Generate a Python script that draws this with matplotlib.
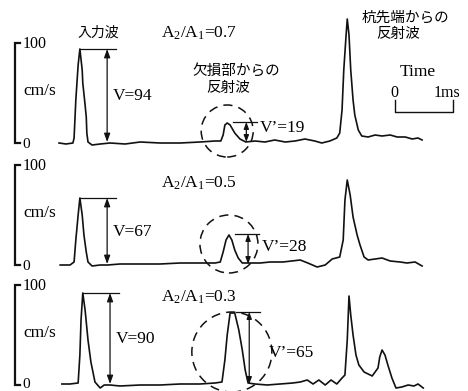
import matplotlib
matplotlib.use('Agg')
import matplotlib.pyplot as plt
from matplotlib.patches import Ellipse
import numpy as np

plt.rcParams['font.family'] = ['Liberation Serif', 'Noto Sans CJK JP']

# ---------------- data (time in ms, velocity in cm/s) ----------------
ratios = ['0.7', '0.5', '0.3']
input_labels = [94, 67, 90]
defect_labels = [19, 28, 65]
scale_ticks = [0, 100]
time_bar = [0, 1]

t1 = [0.00, 0.12, 0.24, 0.26, 0.29, 0.33, 0.36, 0.40, 0.41, 0.45, 0.47, 0.48, 0.50, 0.57, 0.71,
      0.88, 1.14, 1.40, 1.74, 2.09, 2.43, 2.69, 2.79, 2.83, 2.86, 2.90, 2.95, 3.03, 3.12, 3.22,
      3.38, 3.55, 3.72, 3.90, 4.07, 4.24, 4.41, 4.53, 4.67, 4.79, 4.84, 4.88, 4.91, 4.95, 4.97,
      5.00, 5.03, 5.07, 5.10, 5.16, 5.22, 5.33, 5.45, 5.57, 5.71, 5.83, 5.97, 6.09, 6.19, 6.26]
v1 = [0, -1, 0, 5, 43, 78, 94, 73, 60, 38, 26, 10, 1, -2, -1,
      0, -1, 1, 0, 0, 1, 2, 2, 8, 18, 20, 18, 10, 4, 1,
      2, 1, 3, 1, 2, 4, 2, 0, 2, 5, 10, 33, 73, 108, 124,
      108, 73, 43, 28, 13, 7, 6, 8, 7, 8, 6, 6, 4, 5, 3]

t2 = [0.02, 0.19, 0.26, 0.29, 0.33, 0.36, 0.40, 0.43, 0.47, 0.50, 0.57, 0.71, 0.84, 1.05, 1.40,
      1.74, 2.09, 2.43, 2.69, 2.78, 2.83, 2.88, 2.93, 2.98, 3.03, 3.09, 3.16, 3.29, 3.47, 3.64,
      3.86, 4.16, 4.29, 4.45, 4.59, 4.71, 4.84, 4.90, 4.93, 4.97, 5.02, 5.07, 5.14, 5.19, 5.26,
      5.33, 5.45, 5.57, 5.71, 5.88, 6.00, 6.14, 6.26]
v2 = [0, 0, 3, 25, 50, 67, 50, 30, 13, 3, -1, 0, 0, 1, 1,
      1, 2, 2, 2, 3, 13, 25, 30, 25, 15, 7, 2, 2, 2, 3,
      3, 5, 2, -2, 0, 6, 8, 25, 65, 85, 70, 48, 30, 20, 8,
      5, 6, 7, 4, 3, 2, 3, -1]

t3 = [0.05, 0.19, 0.33, 0.36, 0.38, 0.41, 0.45, 0.50, 0.55, 0.62, 0.71, 0.78, 0.88, 1.05, 1.40,
      1.74, 2.09, 2.43, 2.69, 2.81, 2.86, 2.90, 2.95, 3.03, 3.10, 3.16, 3.21, 3.26, 3.38, 3.59,
      3.81, 4.03, 4.16, 4.28, 4.38, 4.48, 4.59, 4.69, 4.79, 4.88, 4.93, 4.97, 5.00, 5.03, 5.07,
      5.12, 5.17, 5.26, 5.40, 5.50, 5.53, 5.57, 5.62, 5.67, 5.74, 5.81, 5.91, 6.02, 6.12, 6.19, 6.28]
v3 = [1, 1, 2, 30, 65, 92, 75, 45, 23, 3, -3, 0, 0, -1, 0,
      0, 1, 1, 2, 3, 25, 50, 72, 72, 55, 35, 15, 2, 1, 0,
      1, 2, 3, 5, 1, 5, 0, 5, 1, 7, 10, 45, 89, 70, 50,
      30, 20, 13, 9, 17, 28, 35, 30, 20, 7, -3, -2, 0, -1, 1, -3]

series_t = [t1, t2, t3]
series_v = [v1, v2, v3]

# ---------------- layout ----------------
W, H = 468, 391
PX_PER_MS = 58.0
T0_PX = 59.0
zero_px = [143, 265, 385]
zero_label_v = [-2, -2, 0]
circle_r_px = [26, 29, 40]
circle_cv = [12, 21, 33]
defect_text_v = [15, 18, 32]
LC = '#111111'

fig = plt.figure(figsize=(W / 100, H / 100), dpi=100)


def fx(px):
    return px / W


def fy(py):
    return 1 - py / H


serif = 12.5
jp = ['Noto Sans CJK JP']

for i in range(3):
    ax = fig.add_axes([0, 0, 1, 1])
    ax.set_xlim(-T0_PX / PX_PER_MS, (W - T0_PX) / PX_PER_MS)
    ax.set_ylim(zero_px[i] - H, zero_px[i])
    ax.axis('off')
    ax.patch.set_alpha(0)
    t = np.array(series_t[i])
    v = np.array(series_v[i])
    ax.plot(t, v, color=LC, lw=1.2, solid_joinstyle='round')

    # scale bracket
    bx0 = (15 - T0_PX) / PX_PER_MS
    bx1 = (20 - T0_PX) / PX_PER_MS
    ax.plot([bx1, bx0, bx0, bx1], [scale_ticks[1], scale_ticks[1], scale_ticks[0], scale_ticks[0]],
            color=LC, lw=1.6, solid_joinstyle='miter')
    ax.text((23 - T0_PX) / PX_PER_MS, scale_ticks[1] - 1, str(scale_ticks[1]), fontsize=11.5,
            va='center', ha='left')
    ax.text((22 - T0_PX) / PX_PER_MS, scale_ticks[0] + zero_label_v[i], str(scale_ticks[0]),
            fontsize=11, va='center', ha='left')
    ax.text((23 - T0_PX) / PX_PER_MS, 52, 'cm/s', fontsize=serif, va='center', ha='left')

    # input wave amplitude
    m = t < 1.5
    k = np.argmax(np.where(m, v, -1e9))
    tp, vp = t[k], v[k]
    ax.plot([tp, tp + 0.62], [vp, vp], color=LC, lw=0.9)
    ax.annotate('', xy=(tp + 0.47, vp), xytext=(tp + 0.47, 1),
                arrowprops=dict(arrowstyle='<|-|>,head_length=0.5,head_width=0.18',
                                color=LC, lw=0.9, shrinkA=0, shrinkB=0))
    ax.text(tp + 0.57, vp / 2, f'V={input_labels[i]}', fontsize=serif, va='center', ha='left')

    # defect reflection amplitude
    m2 = (t > 2.5) & (t < 3.5)
    k2 = np.argmax(np.where(m2, v, -1e9))
    td, vd = t[k2], v[k2]
    ax.plot([td + 0.1, td + 0.52], [vd + 1, vd + 1], color=LC, lw=0.9)
    ax.annotate('', xy=(td + 0.33, vd + 1), xytext=(td + 0.33, 1),
                arrowprops=dict(arrowstyle='<|-|>,head_length=0.4,head_width=0.15',
                                color=LC, lw=0.9, shrinkA=0, shrinkB=0))
    ax.text(td + (0.57 if i < 2 else 0.67), defect_text_v[i], f'V’={defect_labels[i]}',
            fontsize=serif, va='center', ha='left')
    r = circle_r_px[i]
    ax.add_patch(Ellipse((td + (0.0 if i < 2 else 0.03), circle_cv[i]), 2 * r / PX_PER_MS, 2 * r,
                         fill=False, ec=LC, lw=1.1, ls=(0, (6, 4))))

    if i == 0:
        # time scale bar
        tb0 = (395 - T0_PX) / PX_PER_MS
        ax.plot([tb0 + time_bar[0], tb0 + time_bar[0], tb0 + time_bar[1], tb0 + time_bar[1]],
                [43, 31, 31, 43], color=LC, lw=1.0)

# ratio labels
for i, y in enumerate([33, 183, 297]):
    fig.text(fx(161), fy(y), r'$\mathregular{A_2/A_1}$' + '=' + ratios[i], fontsize=serif,
             va='center', ha='left')

fig.text(fx(98), fy(33), '入力波', family=jp, fontsize=10, va='center', ha='center')
fig.text(fx(236), fy(72), '欠損部からの', family=jp, fontsize=10.5, va='center', ha='center')
fig.text(fx(228), fy(88), '反射波', family=jp, fontsize=10.5, va='center', ha='center')
fig.text(fx(405), fy(18), '杭先端からの', family=jp, fontsize=10.5, va='center', ha='center')
fig.text(fx(398), fy(34), '反射波', family=jp, fontsize=10.5, va='center', ha='center')
fig.text(fx(418), fy(72), 'Time', fontsize=serif, va='center', ha='center')
fig.text(fx(394), fy(93), '0', fontsize=11.5, va='center', ha='center')
fig.text(fx(447), fy(93), '1ms', fontsize=11.5, va='center', ha='center')

fig.savefig('out.png', dpi=100)
